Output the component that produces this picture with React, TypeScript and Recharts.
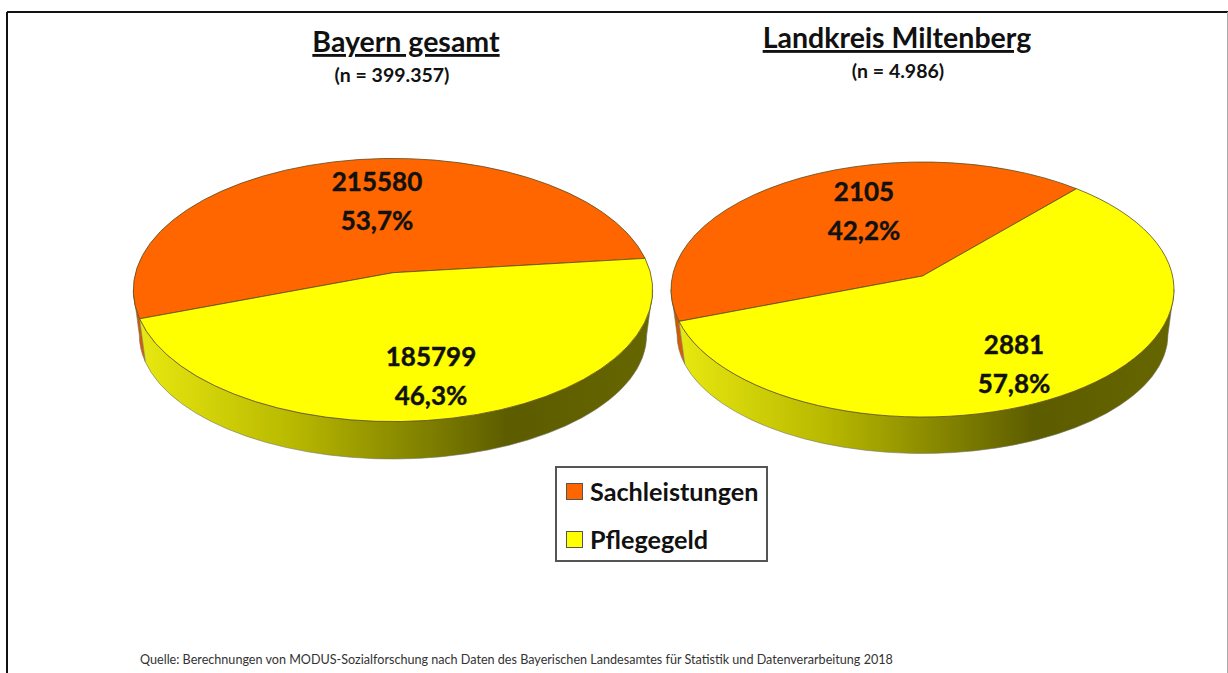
import { Cell, Legend, Pie, PieChart } from 'recharts'

const categories = ['Sachleistungen', 'Pflegegeld']
const bayernValues = [215580, 185799]
const miltenbergValues = [2105, 2881]
const sliceColors = ['#ff6600', '#ffff00']

const FONT = 'Lato, sans-serif'

const bayernData = categories.map((name, i) => ({ name, value: bayernValues[i] }))
const miltenbergData = categories.map((name, i) => ({ name, value: miltenbergValues[i] }))

const rad = (deg: number) => (deg * Math.PI) / 180

// tilted pie: slices fan out from an apex that sits above the ellipse centre
function tiltedSector(ry: number, apexUp: number, rxFoot: number, footDown: number, ryFoot: number) {
  return function TiltedSector(props: any) {
    const { cx, cy, outerRadius: rx, startAngle, endAngle, fill } = props
    const ey = cy + apexUp
    const a = apexUp / ry

    const phiOf = (theta: number) => {
      const s = Math.sin(rad(theta))
      const c = Math.cos(rad(theta))
      const b = a * s
      const t = -b + Math.sqrt(b * b - (a * a - 1))
      const deg = (Math.atan2(a + t * s, t * c) * 180) / Math.PI
      return deg < 0 ? deg + 360 : deg
    }
    const top = (phi: number) => [cx + rx * Math.cos(rad(phi)), ey - ry * Math.sin(rad(phi))]
    const foot = (phi: number) => [
      cx + rxFoot * Math.cos(rad(phi)),
      ey + footDown - ryFoot * Math.sin(rad(phi)),
    ]

    const phi1 = phiOf(startAngle)
    let phi2 = phiOf(endAngle)
    if (phi2 <= phi1) phi2 += 360

    const p1 = top(phi1)
    const p2 = top(phi2)
    const large = phi2 - phi1 > 180 ? 1 : 0
    const face = `M${cx},${cy}L${p1[0]},${p1[1]}A${rx},${ry} 0 ${large} 0 ${p2[0]},${p2[1]}Z`

    const walls: string[] = []
    for (const [lo, hi] of [[180, 360], [540, 720]]) {
      const from = Math.max(lo, phi1)
      const to = Math.min(hi, phi2)
      if (to <= from) continue
      const t1 = top(from)
      const t2 = top(to)
      const f1 = foot(from)
      const f2 = foot(to)
      walls.push(
        `M${t1[0]},${t1[1]}A${rx},${ry} 0 0 0 ${t2[0]},${t2[1]}L${f2[0]},${f2[1]}A${rxFoot},${ryFoot} 0 0 1 ${f1[0]},${f1[1]}Z`,
      )
    }
    const wallFill = fill === sliceColors[0] ? 'url(#wallOrange)' : 'url(#wallYellow)'

    return (
      <g>
        {walls.map((d) => (
          <path key={d} d={d} fill={wallFill} stroke="#77776a" strokeWidth={0.6} />
        ))}
        <path d={face} fill={fill} stroke="#5a4a20" strokeWidth={0.8} />
      </g>
    )
  }
}

function sliceLabel(spots: { x: number; y: number; gap: number }[]) {
  return function SliceLabel(props: any) {
    const spot = spots[props.index]
    const pct = (props.percent * 100).toFixed(1).replace('.', ',') + '%'
    return (
      <text
        textAnchor="middle"
        fontFamily={FONT}
        fontWeight={700}
        fontSize={26}
        fill="#111"
        stroke="#111"
        strokeWidth={0.4}
      >
        <tspan x={spot.x} y={spot.y}>{props.value}</tspan>
        <tspan x={spot.x} y={spot.y + spot.gap}>{pct}</tspan>
      </text>
    )
  }
}

function LegendBox({ payload }: any) {
  // two pies give every category twice, keep one of each in category order
  const items = categories.filter((c) => (payload ?? []).some((p: any) => p.value === c))
  return (
    <div
      style={{
        boxSizing: 'border-box',
        width: 213,
        height: 96,
        border: '2px solid #555',
        background: '#fff',
        position: 'relative',
        fontFamily: FONT,
        fontWeight: 700,
        fontSize: 25.2,
        color: '#111',
      }}
    >
      {items.map((name, i) => (
        <div
          key={name}
          style={{ position: 'absolute', left: 9, top: 8 + i * 48, display: 'flex', alignItems: 'center', height: 30 }}
        >
          <span
            style={{
              boxSizing: 'border-box',
              width: 17,
              height: 17,
              marginRight: 7,
              background: sliceColors[categories.indexOf(name)],
              border: '1px solid #555',
            }}
          />
          <span>{name}</span>
        </div>
      ))}
    </div>
  )
}

export default function App() {
  return (
    <div style={{ position: 'absolute', left: 0, top: 0, width: 1228, height: 673, background: '#fff', overflow: 'hidden' }}>
      <PieChart width={1228} height={673} margin={{ top: 0, right: 0, bottom: 0, left: 0 }}>
        <defs>
          <linearGradient id="wallYellow" x1="0" y1="0" x2="1" y2="0">
            <stop offset="0" stopColor="#e8e810" />
            <stop offset="0.3" stopColor="#b8b800" />
            <stop offset="0.5" stopColor="#8c8c00" />
            <stop offset="0.72" stopColor="#5c5c00" />
            <stop offset="1" stopColor="#666600" />
          </linearGradient>
          <linearGradient id="wallOrange" x1="0" y1="0" x2="1" y2="0">
            <stop offset="0" stopColor="#c05000" />
            <stop offset="1" stopColor="#e86000" />
          </linearGradient>
        </defs>

        <line x1={7} y1={12} x2={1228} y2={12} stroke="#111" strokeWidth={2} />
        <line x1={7} y1={12} x2={7} y2={673} stroke="#111" strokeWidth={2} />
        <line x1={1227.5} y1={12} x2={1227.5} y2={673} stroke="#aaa" strokeWidth={1} />

        <Pie
          data={bayernData}
          dataKey="value"
          nameKey="name"
          cx={393}
          cy={272.7}
          outerRadius={259.7}
          startAngle={6.4}
          endAngle={366.4}
          stroke="none"
          isAnimationActive={false}
          shape={tiltedSector(131.6, 17.3, 253.7, 45, 124)}
          labelLine={false}
          label={sliceLabel([
            { x: 377, y: 191, gap: 39 },
            { x: 431, y: 366, gap: 39 },
          ])}
        >
          {bayernData.map((d, i) => (
            <Cell key={d.name} fill={sliceColors[i]} />
          ))}
        </Pie>
        <Pie
          data={miltenbergData}
          dataKey="value"
          nameKey="name"
          cx={922.5}
          cy={276}
          outerRadius={251.5}
          startAngle={48.2}
          endAngle={408.2}
          stroke="none"
          isAnimationActive={false}
          shape={tiltedSector(127.5, 13.5, 245.5, 45, 119)}
          labelLine={false}
          label={sliceLabel([
            { x: 864, y: 201, gap: 39 },
            { x: 1014, y: 354, gap: 39 },
          ])}
        >
          {miltenbergData.map((d, i) => (
            <Cell key={d.name} fill={sliceColors[i]} />
          ))}
        </Pie>

        <g fontFamily={FONT} fontWeight={700} fill="#111" textAnchor="middle">
          <text x={406} y={52} fontSize={28.5} textDecoration="underline">Bayern gesamt</text>
          <text x={392} y={82} fontSize={19.5}>(n = 399.357)</text>
          <text x={897} y={48} fontSize={28.5} textDecoration="underline">Landkreis Miltenberg</text>
          <text x={898} y={78} fontSize={19.5}>(n = 4.986)</text>
        </g>
        <text x={140} y={664} fontFamily={FONT} fontSize={12.6} fill="#333">
          Quelle: Berechnungen von MODUS-Sozialforschung nach Daten des Bayerischen Landesamtes für Statistik und Datenverarbeitung 2018
        </text>

        <Legend content={LegendBox} wrapperStyle={{ position: 'absolute', left: 555, top: 466, width: 213, height: 96 }} />
      </PieChart>
    </div>
  )
}
